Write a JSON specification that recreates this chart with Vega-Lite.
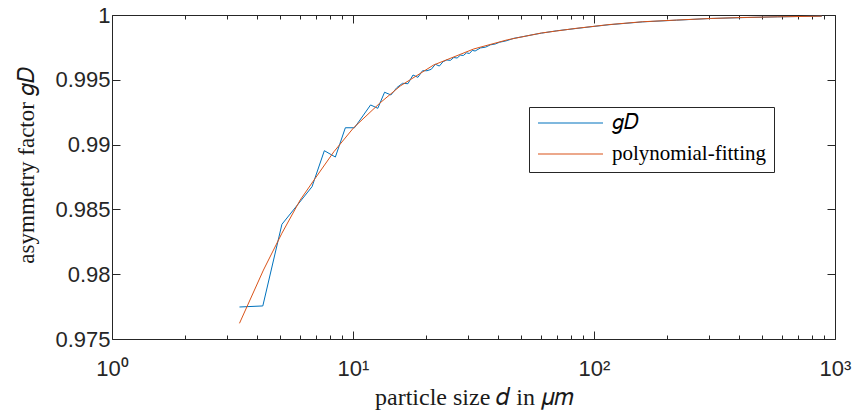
{
  "$schema": "https://vega.github.io/schema/vega-lite/v6.json",
  "width": 723,
  "height": 324,
  "autosize": "none",
  "padding": {"left": 112, "top": 15, "right": 24, "bottom": 80},
  "background": "white",
  "config": {
    "view": {"stroke": null},
    "axis": {
      "grid": false,
      "domainColor": "#262626",
      "domainWidth": 1,
      "tickColor": "#262626",
      "tickWidth": 1,
      "labelColor": "#262626",
      "labelFont": "Liberation Sans",
      "labelFontSize": 22,
      "titleFont": "Liberation Serif",
      "titleFontSize": 23,
      "titleFontWeight": "normal",
      "titleColor": "#1a1a1a",
      "labelFlush": false,
      "labelOverlap": false
    }
  },
  "datasets": {
    "curves": [
      {"series": "gD", "d": 3.38, "g": 0.97747},
      {"series": "gD", "d": 4.225, "g": 0.97755},
      {"series": "gD", "d": 5.07, "g": 0.98385},
      {"series": "gD", "d": 5.915, "g": 0.9854},
      {"series": "gD", "d": 6.76, "g": 0.98675},
      {"series": "gD", "d": 7.605, "g": 0.98953},
      {"series": "gD", "d": 8.45, "g": 0.98904},
      {"series": "gD", "d": 9.295, "g": 0.9913},
      {"series": "gD", "d": 10.14, "g": 0.9913},
      {"series": "gD", "d": 10.985, "g": 0.99221},
      {"series": "gD", "d": 11.83, "g": 0.99306},
      {"series": "gD", "d": 12.675, "g": 0.9928},
      {"series": "gD", "d": 13.52, "g": 0.99404},
      {"series": "gD", "d": 14.365, "g": 0.99383},
      {"series": "gD", "d": 15.21, "g": 0.9944},
      {"series": "gD", "d": 16.055, "g": 0.99473},
      {"series": "gD", "d": 16.9, "g": 0.9947},
      {"series": "gD", "d": 17.745, "g": 0.99537},
      {"series": "gD", "d": 18.59, "g": 0.99519},
      {"series": "gD", "d": 19.435, "g": 0.9957},
      {"series": "gD", "d": 20.28, "g": 0.9957},
      {"series": "gD", "d": 21.125, "g": 0.99581},
      {"series": "gD", "d": 21.97, "g": 0.9962},
      {"series": "gD", "d": 22.815, "g": 0.99606},
      {"series": "gD", "d": 23.66, "g": 0.9964},
      {"series": "gD", "d": 24.505, "g": 0.99653},
      {"series": "gD", "d": 25.35, "g": 0.9965},
      {"series": "gD", "d": 26.2, "g": 0.99672},
      {"series": "gD", "d": 27.04, "g": 0.99668},
      {"series": "gD", "d": 27.89, "g": 0.9969},
      {"series": "gD", "d": 28.73, "g": 0.99688},
      {"series": "gD", "d": 29.58, "g": 0.99708},
      {"series": "gD", "d": 30.42, "g": 0.99703},
      {"series": "gD", "d": 31.27, "g": 0.99727},
      {"series": "gD", "d": 32.11, "g": 0.99722},
      {"series": "gD", "d": 33.8, "g": 0.99746},
      {"series": "gD", "d": 35.5, "g": 0.99752},
      {"series": "gD", "d": 37.2, "g": 0.9977},
      {"series": "gD", "d": 38.9, "g": 0.99776},
      {"series": "gD", "d": 40.6, "g": 0.9979},
      {"series": "gD", "d": 43.1, "g": 0.998},
      {"series": "gD", "d": 46.5, "g": 0.9982},
      {"series": "gD", "d": 50.7, "g": 0.99833},
      {"series": "gD", "d": 55.8, "g": 0.99848},
      {"series": "gD", "d": 60.5, "g": 0.9986},
      {"series": "gD", "d": 70, "g": 0.99878},
      {"series": "gD", "d": 83.5, "g": 0.99895},
      {"series": "gD", "d": 100, "g": 0.99912},
      {"series": "gD", "d": 115.4, "g": 0.99925},
      {"series": "gD", "d": 159.3, "g": 0.99947},
      {"series": "gD", "d": 220, "g": 0.9996},
      {"series": "gD", "d": 303.8, "g": 0.99973},
      {"series": "gD", "d": 419, "g": 0.9998},
      {"series": "gD", "d": 579, "g": 0.99986},
      {"series": "gD", "d": 881, "g": 0.99991},
      {"series": "polynomial-fitting", "d": 3.38, "g": 0.97621},
      {"series": "polynomial-fitting", "d": 4.25, "g": 0.98032},
      {"series": "polynomial-fitting", "d": 5.07, "g": 0.98316},
      {"series": "polynomial-fitting", "d": 6.04, "g": 0.98573},
      {"series": "polynomial-fitting", "d": 6.97, "g": 0.9874},
      {"series": "polynomial-fitting", "d": 8.33, "g": 0.98945},
      {"series": "polynomial-fitting", "d": 10.06, "g": 0.9913},
      {"series": "polynomial-fitting", "d": 12.9, "g": 0.99319},
      {"series": "polynomial-fitting", "d": 15.7, "g": 0.99452},
      {"series": "polynomial-fitting", "d": 21.6, "g": 0.99614},
      {"series": "polynomial-fitting", "d": 31.7, "g": 0.99738},
      {"series": "polynomial-fitting", "d": 43.8, "g": 0.99809},
      {"series": "polynomial-fitting", "d": 60.5, "g": 0.99861},
      {"series": "polynomial-fitting", "d": 83.5, "g": 0.99896},
      {"series": "polynomial-fitting", "d": 115.4, "g": 0.99926},
      {"series": "polynomial-fitting", "d": 159.3, "g": 0.99948},
      {"series": "polynomial-fitting", "d": 220, "g": 0.99961},
      {"series": "polynomial-fitting", "d": 303.8, "g": 0.99973},
      {"series": "polynomial-fitting", "d": 419, "g": 0.99981},
      {"series": "polynomial-fitting", "d": 579, "g": 0.99986},
      {"series": "polynomial-fitting", "d": 881, "g": 0.99991}
    ]
  },
  "data": {"name": "curves"},
  "layer": [
    {
      "transform": [{"filter": "datum.series === 'gD'"}],
      "mark": {"type": "line", "strokeWidth": 1},
      "encoding": {
        "x": {
          "field": "d", "type": "quantitative",
          "scale": {"type": "log", "domain": [1, 1000], "nice": false},
          "axis": {
            "orient": "bottom",
            "values": [1, 10, 100, 1000],
            "tickSize": -8,
            "labelPadding": 27,
            "labelExpr": "datum.value == 1 ? '10⁰' : datum.value == 10 ? '10¹' : datum.value == 100 ? '10²' : '10³'",
            "title": "particle size 𝑑 in 𝜇𝑚",
            "titleFontSize": 24,
            "titlePadding": 6
          }
        },
        "y": {
          "field": "g", "type": "quantitative",
          "scale": {"domain": [0.975, 1], "nice": false, "zero": false},
          "axis": {
            "orient": "left",
            "values": [0.975, 0.98, 0.985, 0.99, 0.995, 1],
            "format": "~g",
            "tickSize": -8,
            "labelPadding": 10,
            "title": "asymmetry factor 𝑔𝐷",
            "titlePadding": 16,
            "titleY": 150
          }
        },
        "color": {
          "field": "series", "type": "nominal",
          "scale": {"domain": ["gD", "polynomial-fitting"], "range": ["#0072BD", "#D95319"]},
          "legend": {
            "title": null,
            "orient": "none",
            "legendX": 417,
            "legendY": 92,
            "symbolType": "stroke",
            "symbolSize": 4225,
            "symbolStrokeWidth": 1.2,
            "clipHeight": 16,
            "labelFont": "Liberation Serif",
            "labelFontSize": 21,
            "labelColor": "#000000",
            "labelOffset": 8,
            "rowPadding": 10,
            "padding": 8,
            "strokeColor": "#262626",
            "fillColor": "white",
            "labelExpr": "datum.label == 'gD' ? '𝑔𝐷' : datum.label"
          }
        }
      }
    },
    {
      "transform": [{"filter": "datum.series === 'polynomial-fitting'"}],
      "mark": {"type": "line", "strokeWidth": 1},
      "encoding": {
        "x": {
          "field": "d", "type": "quantitative",
          "scale": {"type": "log", "domain": [1, 1000], "nice": false},
          "axis": {"orient": "top", "values": [1, 10, 100, 1000], "tickSize": -8, "labels": false, "title": null}
        },
        "y": {
          "field": "g", "type": "quantitative",
          "scale": {"domain": [0.975, 1], "nice": false, "zero": false},
          "axis": {"orient": "right", "values": [0.975, 0.98, 0.985, 0.99, 0.995, 1], "tickSize": -8, "labels": false, "title": null}
        },
        "color": {
          "field": "series", "type": "nominal",
          "scale": {"domain": ["gD", "polynomial-fitting"], "range": ["#0072BD", "#D95319"]},
          "legend": {
            "title": null,
            "orient": "none",
            "legendX": 417,
            "legendY": 92,
            "symbolType": "stroke",
            "symbolSize": 4225,
            "symbolStrokeWidth": 1.2,
            "clipHeight": 16,
            "labelFont": "Liberation Serif",
            "labelFontSize": 21,
            "labelColor": "#000000",
            "labelOffset": 8,
            "rowPadding": 10,
            "padding": 8,
            "strokeColor": "#262626",
            "fillColor": "white",
            "labelExpr": "datum.label == 'gD' ? '𝑔𝐷' : datum.label"
          }
        }
      }
    },
    {
      "transform": [{"filter": "datum.series === 'gD'"}],
      "mark": {"type": "line", "strokeOpacity": 0},
      "encoding": {
        "x": {
          "field": "d", "type": "quantitative",
          "scale": {"type": "log", "domain": [1, 1000], "nice": false},
          "axis": {"orient": "bottom", "values": [2, 3, 4, 5, 6, 7, 8, 9, 20, 30, 40, 50, 60, 70, 80, 90, 200, 300, 400, 500, 600, 700, 800, 900], "tickSize": -4, "labels": false, "title": null, "domain": false}
        },
        "y": {
          "field": "g", "type": "quantitative",
          "scale": {"domain": [0.975, 1], "nice": false, "zero": false},
          "axis": null
        }
      }
    },
    {
      "transform": [{"filter": "datum.series === 'gD'"}],
      "mark": {"type": "line", "strokeOpacity": 0},
      "encoding": {
        "x": {
          "field": "d", "type": "quantitative",
          "scale": {"type": "log", "domain": [1, 1000], "nice": false},
          "axis": {"orient": "top", "values": [2, 3, 4, 5, 6, 7, 8, 9, 20, 30, 40, 50, 60, 70, 80, 90, 200, 300, 400, 500, 600, 700, 800, 900], "tickSize": -4, "labels": false, "title": null, "domain": false}
        },
        "y": {
          "field": "g", "type": "quantitative",
          "scale": {"domain": [0.975, 1], "nice": false, "zero": false},
          "axis": null
        }
      }
    }
  ],
  "resolve": {"axis": {"x": "independent", "y": "independent"}}
}
